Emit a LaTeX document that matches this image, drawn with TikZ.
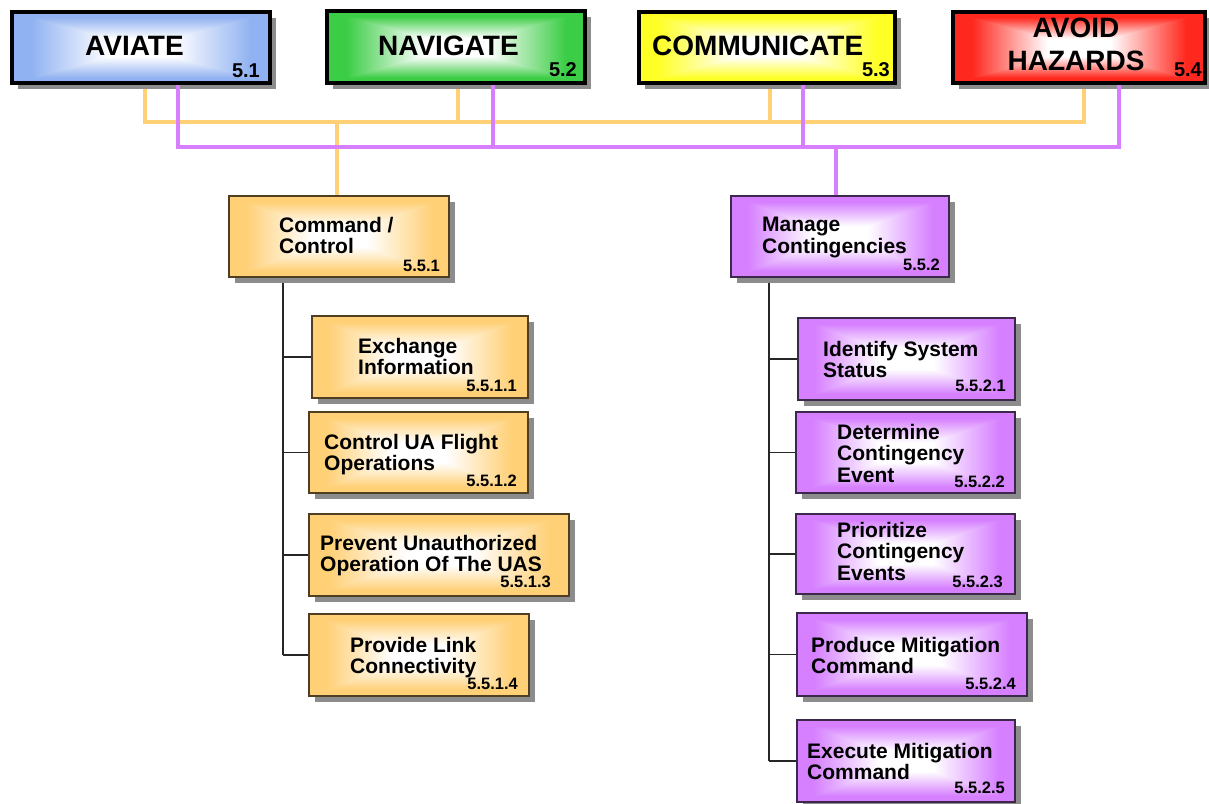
\documentclass[tikz,border=0pt]{standalone}
\usepackage{fontspec}
\setmainfont{Liberation Sans}
\usetikzlibrary{calc,shadows,backgrounds}

\definecolor{cAviate}{RGB}{145,178,242}
\definecolor{cNavigate}{RGB}{60,205,70}
\definecolor{cComm}{RGB}{255,255,40}
\definecolor{cHazard}{RGB}{255,40,30}
\definecolor{cCmd}{RGB}{255,208,118}
\definecolor{cCont}{RGB}{214,128,255}
\definecolor{cCmdEdge}{RGB}{80,62,35}
\definecolor{cContEdge}{RGB}{60,40,75}
\colorlet{rimcol}{cCmd}

% rectangular gradient: full colour at the rim, fading to a white core
\pgfdeclarefunctionalshading[rimcol]{rimfade}{\pgfpoint{-50bp}{-50bp}}{\pgfpoint{50bp}{50bp}}%
  {\pgfshadecolortorgb{rimcol}{\rimrgb}}{%
  abs exch abs 2 copy lt {exch} if pop
  6.25 sub 15 div
  dup 0 lt {pop 0} if dup 1 gt {pop 1} if
  dup dup
  1 \rimrgbred\space sub mul 1 exch sub
  3 1 roll
  1 \rimrgbgreen\space sub mul 1 exch sub
  exch
  1 \rimrgbblue\space sub mul 1 exch sub
}

% box from corner (x0,y0) to (x1,y1)
\newcommand{\mkbox}[6]{%
  \node[#6, minimum width={#4-#2}, minimum height={#5-#3}] (#1) at ({(#2+#4)/2},{(#3+#5)/2}) {};}

\tikzset{
  shadowed/.style={drop shadow={shadow xshift=6pt, shadow yshift=-6pt, fill=black!45, opacity=1}},
  rimfill/.style={/utils/exec={\colorlet{rimcol}{#1}}, shading=rimfade},
  topbox/.style={rectangle, inner sep=0, draw=black, line width=4pt, rimfill=#1, shadowed},
  subbox/.style 2 args={rectangle, inner sep=0, draw=#2, line width=1.1pt, rimfill=#1, shadowed},
  cmdbox/.style={subbox={cCmd}{cCmdEdge}},
  contbox/.style={subbox={cCont}{cContEdge}},
  toptext/.style={inner sep=0, font=\bfseries\fontsize{28}{33}\selectfont},
  topnum/.style={inner sep=0, anchor=base east, font=\bfseries\fontsize{20}{22}\selectfont},
  subtext/.style={inner sep=0, anchor=north west, align=left, font=\bfseries\fontsize{21}{21.5}\selectfont},
  subnum/.style={inner sep=0, anchor=base east, font=\bfseries\fontsize{16.5}{18}\selectfont},
  oline/.style={line width=4pt, color=cCmd},
  pline/.style={line width=4pt, color=cCont},
  tline/.style={line width=1.6pt, color=black!85},
}

\begin{document}
\begin{tikzpicture}[x=1pt, y=-1pt]
\useasboundingbox (0,0) rectangle (1209,803);

% top-level functions
\mkbox{aviate}{12}{12}{270}{83}{topbox=cAviate}
\mkbox{navigate}{327}{11}{585}{83}{topbox=cNavigate}
\mkbox{communicate}{639}{12}{895}{83}{topbox=cComm}
\mkbox{hazards}{953}{12}{1205}{83}{topbox=cHazard}

\node[toptext, anchor=base west] (aviateT) at (85,55) {AVIATE};
\node[toptext, anchor=base west] (navigateT) at (378,55) {NAVIGATE};
\node[toptext, anchor=base west] (communicateT) at (652,55) {COMMUNICATE};
\node[toptext, anchor=north, align=center] (hazardsT) at (1076,18) {AVOID\\HAZARDS};
\node[topnum] (aviateN) at (260,77) {5.1};
\node[topnum] (navigateN) at (577,76) {5.2};
\node[topnum] (communicateN) at (890,76) {5.3};
\node[topnum] (hazardsN) at (1202,76) {5.4};

% second level
\mkbox{cmd}{229}{196}{449}{277}{cmdbox}
\mkbox{mng}{731}{196}{949}{277}{contbox}

% command / control sub-functions
\mkbox{exch}{312}{316}{528}{398}{cmdbox}
\mkbox{ctrl}{309}{412}{528}{493}{cmdbox}
\mkbox{prev}{309}{514}{569}{596}{cmdbox}
\mkbox{prov}{309}{614}{529}{696}{cmdbox}

% contingency sub-functions
\mkbox{ident}{798}{318}{1015}{400}{contbox}
\mkbox{determ}{796}{412}{1015}{493}{contbox}
\mkbox{prior}{796}{514}{1015}{594}{contbox}
\mkbox{prod}{797}{613}{1027}{696}{contbox}
\mkbox{exec}{797}{720}{1015}{802}{contbox}

\node[subtext] (cmdT) at (279,217) {Command /\\Control};
\node[subtext] (exchT) at (358,338) {Exchange\\Information};
\node[subtext] (ctrlT) at (324,434) {Control UA Flight\\Operations};
\node[subtext] (prevT) at (320,535) {Prevent Unauthorized\\Operation Of The UAS};
\node[subtext] (provT) at (350,637) {Provide Link\\Connectivity};
\node[subtext] (mngT) at (762,217) {Manage\\Contingencies};
\node[subtext] (identT) at (823,341) {Identify System\\Status};
\node[subtext] (determT) at (837,424) {Determine\\Contingency\\Event};
\node[subtext] (priorT) at (837,522) {Prioritize\\Contingency\\Events};
\node[subtext] (prodT) at (811,637) {Produce Mitigation\\Command};
\node[subtext] (execT) at (807,743) {Execute Mitigation\\Command};

\node[subnum] (cmdN) at (440,271) {5.5.1};
\node[subnum] (exchN) at (517,391) {5.5.1.1};
\node[subnum] (ctrlN) at (517,486) {5.5.1.2};
\node[subnum] (prevN) at (551,587) {5.5.1.3};
\node[subnum] (provN) at (518,689) {5.5.1.4};
\node[subnum] (mngN) at (940,270) {5.5.2};
\node[subnum] (identN) at (1006,391) {5.5.2.1};
\node[subnum] (determN) at (1005,487) {5.5.2.2};
\node[subnum] (priorN) at (1003,587) {5.5.2.3};
\node[subnum] (prodN) at (1016,689) {5.5.2.4};
\node[subnum] (execN) at (1005,793) {5.5.2.5};

% bus junctions
\coordinate (oA) at (145,122);
\coordinate (oN) at (458,122);
\coordinate (oC) at (770,122);
\coordinate (oH) at (1084,122);
\coordinate (oCC) at (337,122);
\coordinate (pA) at (178,147);
\coordinate (pN) at (493,147);
\coordinate (pC) at (803,147);
\coordinate (pH) at (1119,147);
\coordinate (pMC) at (836,147);
\coordinate (tL) at (283,0);
\coordinate (tR) at (769,0);

% command / control bus, running under the boxes
\begin{scope}[on background layer]
  \draw[oline] (oA |- aviate.south) -- (oA) -- (oH) -- (oH |- hazards.south);
  \draw[oline] (oN |- navigate.south) -- (oN);
  \draw[oline] (oC |- communicate.south) -- (oC);
  \draw[oline] (oCC) -- (oCC |- cmd.north);
  % sub-function trees
  \draw[tline] (cmd.south -| tL) -- (tL |- prov.west);
  \foreach \b in {exch,ctrl,prev,prov} \draw[tline] (tL |- \b.west) -- (\b.west);
  \draw[tline] (mng.south -| tR) -- (tR |- exec.west);
  \foreach \b in {ident,determ,prior,prod,exec} \draw[tline] (tR |- \b.west) -- (\b.west);
\end{scope}

% contingency bus
\draw[pline] (pA |- aviate.south) -- (pA) -- (pH) -- (pH |- hazards.south);
\draw[pline] (pN |- navigate.south) -- (pN);
\draw[pline] (pC |- communicate.south) -- (pC);
\draw[pline] (pMC) -- (pMC |- mng.north);
\end{tikzpicture}
\end{document}
